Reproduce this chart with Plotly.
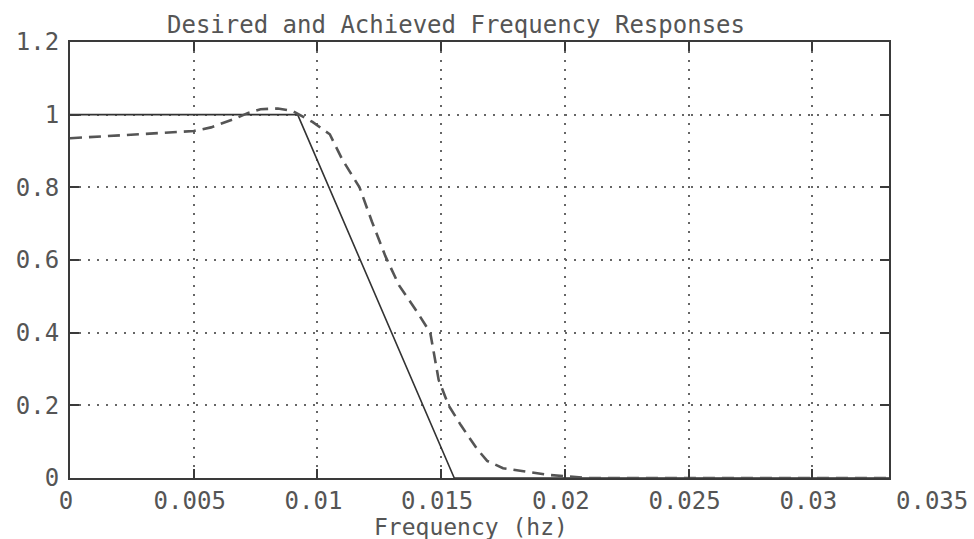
import plotly.graph_objects as go

# ---- data ----
desired_f = [0.0, 0.0092, 0.01553, 0.0331]
desired_m = [1.0, 1.0, 0.0, 0.0]

achieved_f = [0.0, 0.0025, 0.005, 0.0057, 0.0067, 0.0072, 0.0077, 0.0084, 0.0090,
              0.0098, 0.0105, 0.0110, 0.0117, 0.0122, 0.01275, 0.0133, 0.0140,
              0.01456, 0.0149, 0.0153, 0.0158, 0.01645, 0.01686, 0.0175, 0.0185,
              0.0194, 0.0200, 0.0210, 0.0331]
achieved_m = [0.935, 0.945, 0.955, 0.965, 0.99, 1.005, 1.015, 1.017, 1.01,
              0.98, 0.946, 0.877, 0.80, 0.706, 0.61, 0.53, 0.46,
              0.40, 0.27, 0.20, 0.145, 0.08, 0.047, 0.027, 0.016,
              0.008, 0.005, 0.0, 0.0]

x_tickvals = [0, 0.005, 0.01, 0.015, 0.02, 0.025, 0.03]
x_ticktext = ["0", "0.005", "0.01", "0.015", "0.02", "0.025", "0.03"]
x_extra_tick = 0.035
x_extra_text = "0.035"
y_tickvals = [0, 0.2, 0.4, 0.6, 0.8, 1.0, 1.2]
y_ticktext = ["0", "0.2", "0.4", "0.6", "0.8", "1", "1.2"]

x_max = 0.0331
y_max = 1.2

FONT = "DejaVu Sans Mono"
TXT = "#555555"
AX = "#3a3a3a"
GRID = "#666666"
FS = 24

fig = go.Figure()
fig.add_trace(go.Scatter(x=desired_f, y=desired_m, mode="lines",
                         line=dict(color="#333333", width=1.6), showlegend=False))
fig.add_trace(go.Scatter(x=achieved_f, y=achieved_m, mode="lines",
                         line=dict(color="#555555", width=2.6, dash="12px,7px"),
                         showlegend=False))

axis_common = dict(showline=True, linecolor=AX, linewidth=2, mirror="ticks",
                   ticks="inside", ticklen=9, tickwidth=1.5, tickcolor=AX,
                   showgrid=True, gridcolor=GRID, gridwidth=1.5, griddash="2px,7px",
                   zeroline=False,
                   tickfont=dict(family=FONT, size=FS, color=TXT))

fig.update_xaxes(range=[0, x_max], tickvals=x_tickvals, ticktext=x_ticktext,
                 ticklabelstandoff=0, ticklabelshift=-4, **axis_common)
fig.update_yaxes(range=[0, y_max], tickvals=y_tickvals, ticktext=y_ticktext,
                 ticklabelstandoff=4, **axis_common)

L, R, T, B = 70, 85, 42, 61
W, H = 974, 539
pw = W - L - R

fig.update_layout(
    width=W, height=H,
    margin=dict(l=L, r=R, t=T, b=B),
    plot_bgcolor="white", paper_bgcolor="white",
    title=dict(text="Desired and Achieved Frequency Responses",
               font=dict(family=FONT, size=FS, color=TXT),
               xref="container", yref="container",
               x=456 / W, xanchor="center", y=1 - 25 / H, yanchor="middle"),
)

fig.add_annotation(text=x_extra_text, xref="paper", yref="paper",
                   x=x_extra_tick / x_max, y=0, xanchor="center", yanchor="middle",
                   yshift=-23, xshift=-4, showarrow=False,
                   font=dict(family=FONT, size=FS, color=TXT))
fig.add_annotation(text="Frequency (hz)", xref="paper", yref="paper",
                   x=(471 - L) / pw, y=0, xanchor="center", yanchor="middle",
                   yshift=-49, showarrow=False,
                   font=dict(family=FONT, size=FS - 1, color=TXT))

fig.write_html("out.html",
               config={"displayModeBar": False},
               post_script="document.body.style.margin='0';document.body.style.padding='0';")
